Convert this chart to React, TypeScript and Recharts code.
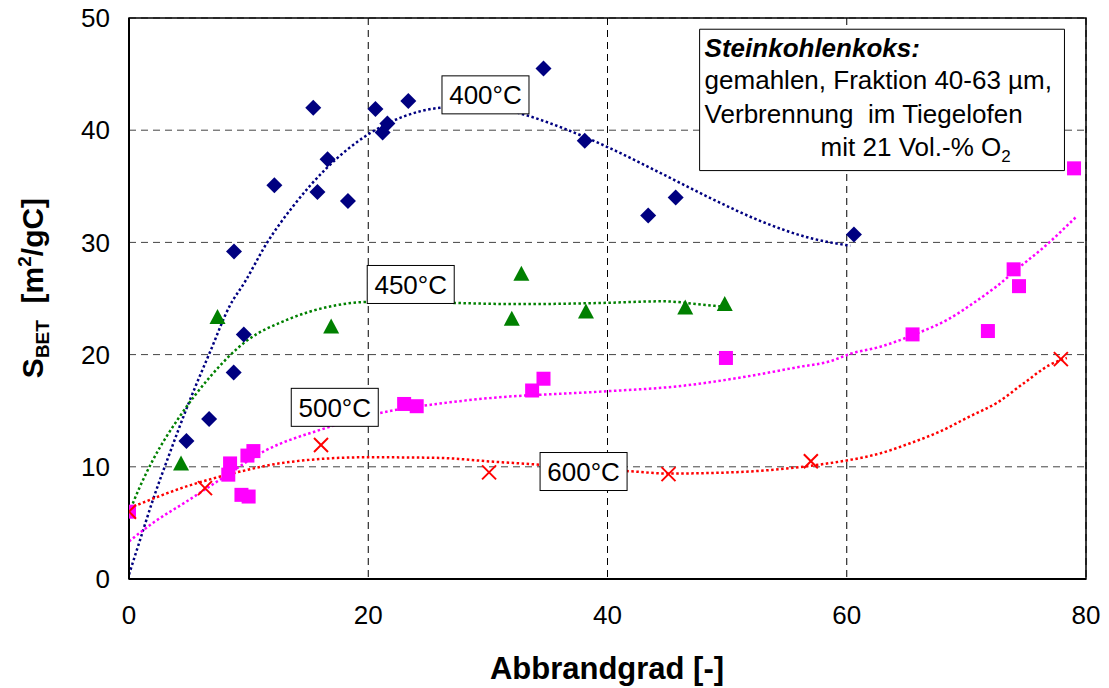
import React from 'react';
import {
  ComposedChart,
  XAxis,
  YAxis,
  CartesianGrid,
  Scatter,
  Line,
  ReferenceDot,
  ReferenceArea,
  Label,
} from 'recharts';

const FONT = '"Liberation Sans", Arial, Helvetica, sans-serif';

const xTicks = [0, 20, 40, 60, 80];
const yTicks = [0, 10, 20, 30, 40, 50];

// measured points
const pts400 = [
  { x: 4.8, y: 12.3 }, { x: 6.7, y: 14.25 }, { x: 8.75, y: 18.4 }, { x: 8.78, y: 29.2 },
  { x: 9.6, y: 21.8 }, { x: 12.15, y: 35.1 }, { x: 15.4, y: 42.0 }, { x: 15.75, y: 34.5 },
  { x: 16.6, y: 37.4 }, { x: 18.3, y: 33.7 }, { x: 20.6, y: 41.9 }, { x: 21.2, y: 39.8 },
  { x: 21.6, y: 40.6 }, { x: 23.35, y: 42.6 }, { x: 34.65, y: 45.5 }, { x: 38.1, y: 39.05 },
  { x: 43.4, y: 32.4 }, { x: 45.7, y: 34.0 }, { x: 60.6, y: 30.7 },
];
const pts450 = [
  { x: 4.35, y: 10.3 }, { x: 7.4, y: 23.35 }, { x: 16.9, y: 22.5 }, { x: 32.0, y: 23.2 },
  { x: 32.8, y: 27.2 }, { x: 38.2, y: 23.85 }, { x: 46.5, y: 24.2 }, { x: 49.8, y: 24.5 },
];
const pts500 = [
  { x: 0, y: 6.0 }, { x: 8.3, y: 9.3 }, { x: 8.45, y: 10.3 }, { x: 9.4, y: 7.5 },
  { x: 10.0, y: 7.35 }, { x: 9.9, y: 11.0 }, { x: 10.4, y: 11.4 }, { x: 23.0, y: 15.6 },
  { x: 24.05, y: 15.4 }, { x: 33.7, y: 16.8 }, { x: 34.65, y: 17.85 }, { x: 49.9, y: 19.7 },
  { x: 65.5, y: 21.8 }, { x: 71.8, y: 22.1 }, { x: 73.95, y: 27.6 }, { x: 74.4, y: 26.1 },
  { x: 79.0, y: 36.6 },
];
const pts600 = [
  { x: 0, y: 6.0 }, { x: 6.35, y: 8.1 }, { x: 16.05, y: 11.95 }, { x: 30.1, y: 9.5 },
  { x: 45.1, y: 9.35 }, { x: 57.0, y: 10.5 }, { x: 77.9, y: 19.6 },
];

// trend lines
const trend400 = [
  { x: 0, y: 0.4 }, { x: 0.84, y: 3.2 }, { x: 2.0, y: 7.05 }, { x: 3.4, y: 11.2 },
  { x: 5.0, y: 15.7 }, { x: 6.8, y: 20.3 }, { x: 8.4, y: 24.3 }, { x: 9.7, y: 26.5 },
  { x: 11.5, y: 29.9 }, { x: 13.7, y: 33.2 }, { x: 16.5, y: 36.6 }, { x: 20.1, y: 39.7 },
  { x: 22.9, y: 41.2 }, { x: 26.0, y: 42.0 }, { x: 29.5, y: 42.2 }, { x: 33.0, y: 41.4 },
  { x: 36.0, y: 40.3 }, { x: 40.2, y: 38.4 }, { x: 44.4, y: 36.2 }, { x: 48.6, y: 33.95 },
  { x: 52.8, y: 31.9 }, { x: 56.9, y: 30.4 }, { x: 60.3, y: 29.7 },
];
const trend450 = [
  { x: 0, y: 5.9 }, { x: 0.9, y: 8.2 }, { x: 2.0, y: 10.6 }, { x: 4.25, y: 14.5 },
  { x: 6.8, y: 18.05 }, { x: 9.8, y: 21.2 }, { x: 13.2, y: 23.1 }, { x: 17.1, y: 24.35 },
  { x: 19.9, y: 24.7 }, { x: 23.5, y: 24.75 }, { x: 27.4, y: 24.6 }, { x: 33.0, y: 24.5 },
  { x: 39.4, y: 24.6 }, { x: 44.7, y: 24.75 }, { x: 47.5, y: 24.5 }, { x: 49.4, y: 24.3 },
];
const trend500 = [
  { x: 0, y: 3.35 }, { x: 2.0, y: 5.0 }, { x: 4.8, y: 6.9 }, { x: 7.6, y: 8.85 },
  { x: 11.5, y: 11.5 }, { x: 16.0, y: 13.3 }, { x: 21.0, y: 14.8 }, { x: 25.7, y: 15.6 },
  { x: 29.9, y: 16.1 }, { x: 39.4, y: 16.7 }, { x: 46.1, y: 17.2 }, { x: 51.65, y: 18.05 },
  { x: 56.0, y: 18.9 }, { x: 58.6, y: 19.4 }, { x: 60.3, y: 20.07 }, { x: 62.8, y: 20.7 },
  { x: 65.9, y: 21.9 }, { x: 68.4, y: 23.1 }, { x: 70.6, y: 24.6 }, { x: 72.55, y: 26.1 },
  { x: 74.5, y: 27.85 }, { x: 76.4, y: 29.5 }, { x: 79.2, y: 32.3 },
];
const trend600 = [
  { x: 0, y: 6.3 }, { x: 4.8, y: 8.25 }, { x: 9.0, y: 9.5 }, { x: 13.2, y: 10.4 },
  { x: 19.9, y: 10.85 }, { x: 25.7, y: 10.8 }, { x: 30.5, y: 10.45 }, { x: 34.1, y: 10.2 },
  { x: 38.0, y: 9.8 }, { x: 41.9, y: 9.6 }, { x: 45.1, y: 9.4 }, { x: 50.25, y: 9.5 },
  { x: 55.0, y: 9.85 }, { x: 58.6, y: 10.33 }, { x: 60.3, y: 10.62 }, { x: 62.8, y: 11.2 },
  { x: 65.3, y: 12.1 }, { x: 67.8, y: 13.15 }, { x: 70.3, y: 14.5 }, { x: 72.55, y: 15.7 },
  { x: 74.8, y: 17.45 }, { x: 77.0, y: 19.1 }, { x: 78.4, y: 19.7 },
];

// series label boxes (anchor in data coordinates)
const seriesLabels = [
  { x: 29.8, y: 43.15, text: '400°C' },
  { x: 23.55, y: 26.25, text: '450°C' },
  { x: 17.2, y: 15.3, text: '500°C' },
  { x: 38.0, y: 9.58, text: '600°C' },
];

const NAVY = '#000080';
const GREEN = '#008000';
const MAGENTA = '#FF00FF';
const RED = '#FF0000';

const Diamond = (p: any) => {
  const { cx, cy } = p;
  if (cx == null || cy == null) return <g />;
  const r = 8;
  return <path d={`M${cx},${cy - r}L${cx + r},${cy}L${cx},${cy + r}L${cx - r},${cy}Z`} fill={NAVY} />;
};
const Triangle = (p: any) => {
  const { cx, cy } = p;
  if (cx == null || cy == null) return <g />;
  return <path d={`M${cx},${cy - 8}L${cx + 8},${cy + 7}L${cx - 8},${cy + 7}Z`} fill={GREEN} />;
};
const Square = (p: any) => {
  const { cx, cy } = p;
  if (cx == null || cy == null) return <g />;
  return <rect x={cx - 7} y={cy - 7} width={14} height={14} fill={MAGENTA} />;
};
const Cross = (p: any) => {
  const { cx, cy } = p;
  if (cx == null || cy == null) return <g />;
  const r = 7;
  return (
    <g stroke={RED} strokeWidth={2}>
      <line x1={cx - r} y1={cy - r} x2={cx + r} y2={cy + r} />
      <line x1={cx - r} y1={cy + r} x2={cx + r} y2={cy - r} />
    </g>
  );
};

const makeLabelShape = (text: string) => (p: any) => {
  const { cx, cy } = p;
  return (
    <g>
      <rect x={cx - 43.5} y={cy - 19} width={87} height={38} fill="#fff" stroke="#000" strokeWidth={1} />
      <text x={cx} y={cy + 9.5} textAnchor="middle" fontSize={26} fontFamily={FONT} fill="#000">
        {text}
      </text>
    </g>
  );
};

const AnnotationText = (props: any) => {
  const vb = props.viewBox || {};
  const x = vb.x ?? 0;
  const y = vb.y ?? 0;
  return (
    <g fontFamily={FONT} fontSize={26} fill="#000">
      <text x={x + 5} y={y + 27.5} fontWeight="bold" fontStyle="italic">Steinkohlenkoks:</text>
      <text x={x + 5} y={y + 60}>gemahlen, Fraktion 40-63 µm,</text>
      <text x={x + 5} y={y + 93.5}>{'Verbrennung\u00a0\u00a0im Tiegelofen'}</text>
      <text x={x + 121} y={y + 127}>
        mit 21 Vol.-% O<tspan fontSize={17} dy={6}>2</tspan>
      </text>
    </g>
  );
};

const YTitle = () => (
  <text
    transform="translate(43,288) rotate(-90)"
    textAnchor="middle"
    fontSize={30}
    fontWeight="bold"
    fontFamily={FONT}
    fill="#000"
  >
    <tspan>S</tspan>
    <tspan fontSize={19} dy={6}>BET</tspan>
    <tspan dy={-6}>{'\u00a0\u00a0[m'}</tspan>
    <tspan fontSize={19} dy={-12}>2</tspan>
    <tspan dy={12}>/gC]</tspan>
  </text>
);

const XTitle = () => (
  <text x={607} y={679} textAnchor="middle" fontSize={31} fontWeight="bold" fontFamily={FONT} fill="#000">
    Abbrandgrad [-]
  </text>
);

const dotted = '2.5 2.5';

export default function App() {
  return (
    <div style={{ position: 'absolute', left: 0, top: 0, width: 1109, height: 688, background: '#fff' }}>
      <ComposedChart width={1109} height={688} margin={{ top: 18, right: 23, left: 0, bottom: 0 }}>
        <CartesianGrid horizontal={false} vertical stroke="#000" strokeDasharray="7 5" strokeWidth={1} />
        <CartesianGrid horizontal vertical={false} stroke="#444" strokeDasharray="7 5" strokeWidth={1} />
        <XAxis
          type="number"
          dataKey="x"
          domain={[0, 80]}
          ticks={xTicks}
          allowDataOverflow
          height={109}
          tickLine={false}
          tickMargin={21}
          axisLine={{ stroke: '#000', strokeWidth: 2 }}
          tick={{ fontSize: 26, fill: '#000', fontFamily: FONT }}
        >
          <Label content={() => <XTitle />} />
        </XAxis>
        <YAxis
          type="number"
          dataKey="y"
          domain={[0, 50]}
          ticks={yTicks}
          allowDataOverflow
          width={129}
          tickLine={false}
          tickMargin={13}
          axisLine={{ stroke: '#000', strokeWidth: 2 }}
          tick={{ fontSize: 26, fill: '#000', fontFamily: FONT }}
        >
          <Label content={() => <YTitle />} />
        </YAxis>
        <ReferenceArea x1={0} x2={80} y1={0} y2={50} fill="none" stroke="#000" strokeWidth={1.5} fillOpacity={0} />

        <Line data={trend400} dataKey="y" type="monotone" stroke={NAVY} strokeWidth={2.5} strokeDasharray={dotted} dot={false} activeDot={false} isAnimationActive={false} />
        <Line data={trend450} dataKey="y" type="monotone" stroke={GREEN} strokeWidth={2.5} strokeDasharray={dotted} dot={false} activeDot={false} isAnimationActive={false} />
        <Line data={trend500} dataKey="y" type="monotone" stroke={MAGENTA} strokeWidth={2.5} strokeDasharray={dotted} dot={false} activeDot={false} isAnimationActive={false} />
        <Line data={trend600} dataKey="y" type="monotone" stroke={RED} strokeWidth={2.5} strokeDasharray={dotted} dot={false} activeDot={false} isAnimationActive={false} />

        <Scatter data={pts400} dataKey="y" shape={Diamond} isAnimationActive={false} />
        <Scatter data={pts450} dataKey="y" shape={Triangle} isAnimationActive={false} />
        <Scatter data={pts500} dataKey="y" shape={Square} isAnimationActive={false} />
        <Scatter data={pts600} dataKey="y" shape={Cross} isAnimationActive={false} />

        {seriesLabels.map((l) => (
          <ReferenceDot key={l.text} x={l.x} y={l.y} r={0} shape={makeLabelShape(l.text)} />
        ))}
        <ReferenceArea
          x1={47.7}
          x2={78.2}
          y1={36.4}
          y2={49.0}
          fill="#fff"
          fillOpacity={1}
          stroke="#000"
          strokeWidth={1}
          label={<AnnotationText />}
        />
      </ComposedChart>
    </div>
  );
}
